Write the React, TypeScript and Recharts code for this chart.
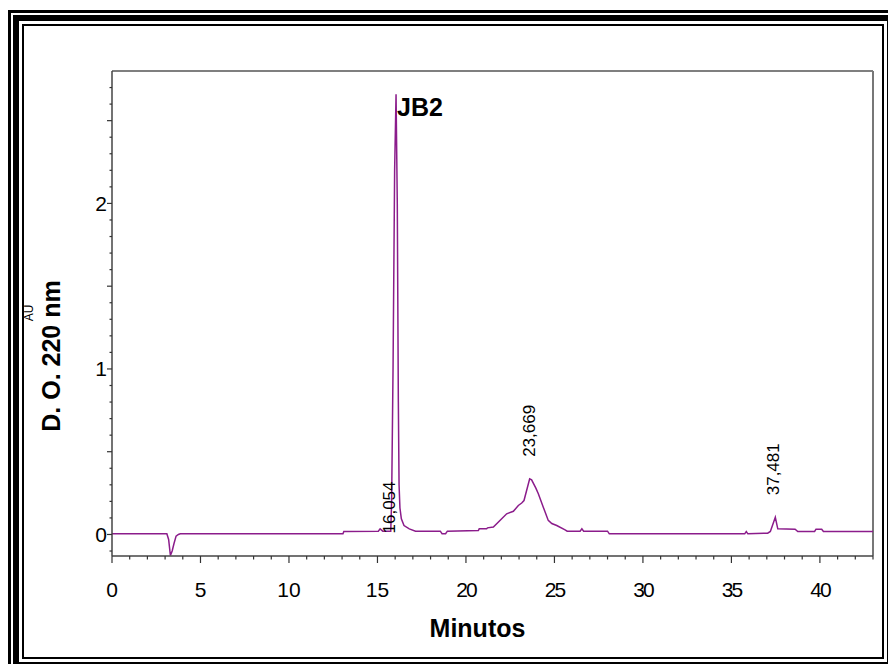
import React from 'react';
import { LineChart, Line, XAxis, YAxis, ReferenceLine, ReferenceDot } from 'recharts';

// chromatogram trace (minutes / AU)
const minutes = [
  0, 3.1, 3.2, 3.3, 3.4, 3.5, 3.62, 3.75, 3.86,
  13.05, 13.1, 15.05, 15.15, 15.3, 15.75, 15.8, 15.88, 15.97, 16.05,
  16.12, 16.18, 16.22, 16.27, 16.35, 16.5, 16.8, 17.15,
  18.55, 18.65, 18.85, 18.95, 20.7, 20.75, 21.17, 21.22, 21.55,
  22.02, 22.3, 22.68, 22.96, 23.15, 23.28, 23.6, 23.71, 23.95, 24.09, 24.37,
  24.65, 24.85, 25.13, 25.6, 25.72, 26.45, 26.55, 26.65,
  28.0, 28.1, 35.75, 35.84, 35.93, 37.05, 37.2, 37.48, 37.62,
  38.6, 38.75, 39.7, 39.78, 40.1, 40.2, 43,
];
const absorbance = [
  0.004, 0.004, -0.03, -0.127, -0.1, -0.056, -0.01, 0.0, 0.004,
  0.004, 0.018, 0.02, 0.034, 0.02, 0.02, 0.2, 1.0, 2.2, 2.66,
  2.0, 0.8, 0.3, 0.16, 0.095, 0.054, 0.034, 0.02,
  0.02, 0.005, 0.005, 0.02, 0.024, 0.034, 0.034, 0.04, 0.045,
  0.095, 0.125, 0.14, 0.175, 0.19, 0.205, 0.336, 0.33, 0.28, 0.246, 0.165,
  0.085, 0.066, 0.054, 0.028, 0.02, 0.02, 0.034, 0.02,
  0.02, 0.004, 0.004, 0.018, 0.004, 0.008, 0.018, 0.104, 0.034,
  0.032, 0.018, 0.018, 0.032, 0.032, 0.018, 0.018,
];

const peakTimes = [16.054, 23.669, 37.481];
const peakHeights = [2.66, 0.336, 0.104];
const peakLabels = ['16,054', '23,669', '37,481'];
const peakName = 'JB2';

const xLabelTicks = [0, 5, 10, 15, 20, 25, 30, 35, 40];
const yLabelTicks = [0, 1, 2];
const xTicks = Array.from({ length: 44 }, (_, i) => i);
const yTicks = Array.from({ length: 29 }, (_, i) => (i - 1) / 10);

const chartData = minutes.map((t, i) => ({ t, au: absorbance[i] }));

const XTick = ({ x, y, payload }: any) => {
  const v = payload.value;
  const major = xLabelTicks.includes(v);
  return (
    <g>
      <line x1={x} x2={x} y1={y} y2={y + (major ? 7 : 3.5)} stroke="#333" strokeWidth={1.2} />
      {major && (
        <text x={x} y={y + 41} textAnchor="middle" fontSize={21} fill="#000" letterSpacing={v >= 20 ? -2 : 0}>
          {v}
        </text>
      )}
    </g>
  );
};

const YTick = ({ x, y, payload }: any) => {
  const v = Math.round(payload.value * 10);
  const label = yLabelTicks.includes(v / 10);
  const half = v % 5 === 0;
  return (
    <g>
      <line x1={x - (half ? 5 : 2.5)} x2={x} y1={y} y2={y} stroke="#333" strokeWidth={1.2} />
      {label && (
        <text x={x - 5} y={y + 7.5} textAnchor="end" fontSize={21} fill="#000">
          {v / 10}
        </text>
      )}
    </g>
  );
};

const frame = (inset: number, w: number): React.CSSProperties => ({
  position: 'absolute',
  left: inset,
  top: 2 + inset,
  width: 890 - 2 * inset,
  height: 663 - 2 * inset,
  border: `${w}px solid #000`,
  boxSizing: 'border-box',
});

export default function App() {
  return (
    <div
      style={{
        position: 'relative',
        width: 888,
        height: 656,
        overflow: 'hidden',
        background: '#fff',
        fontFamily: '"Liberation Sans", Arial, sans-serif',
      }}
    >
      <div style={frame(0, 3)} />
      <div style={frame(5, 6)} />
      <div style={frame(14, 2)} />

      <div style={{ position: 'absolute', left: 0, top: 0 }}>
        <LineChart width={888} height={656} data={chartData} margin={{ top: 63, right: 23, bottom: 68, left: 44 }}>
          <XAxis
            dataKey="t"
            type="number"
            domain={[0, 43]}
            ticks={xTicks}
            interval={0}
            tick={<XTick />}
            tickSize={0}
            tickMargin={0}
            tickLine={false}
            height={40}
            axisLine={{ stroke: '#444', strokeWidth: 1.5 }}
          />
          <YAxis
            type="number"
            domain={[-0.13, 2.8]}
            allowDataOverflow
            ticks={yTicks}
            interval={0}
            tick={<YTick />}
            tickSize={0}
            tickMargin={0}
            tickLine={false}
            width={60}
            axisLine={{ stroke: '#444', strokeWidth: 1.5 }}
          />
          <ReferenceLine y={2.8} stroke="#555" strokeWidth={1.5} />
          <ReferenceLine x={43} stroke="#777" strokeWidth={2} />
          <Line
            type="linear"
            dataKey="au"
            stroke="#8B1C8B"
            strokeWidth={1.5}
            dot={false}
            isAnimationActive={false}
          />
          <ReferenceDot
            x={peakTimes[0]}
            y={peakHeights[0]}
            r={0}
            ifOverflow="visible"
            shape={(p: any) => (
              <text x={p.cx + 1} y={p.cy + 22} fontSize={25} fontWeight="bold" fill="#000">
                {peakName}
              </text>
            )}
          />
          {peakTimes.map((t, i) => {
            const tall = peakHeights[i] > 1;
            return (
              <ReferenceDot
                key={t}
                x={t}
                y={tall ? 0 : peakHeights[i]}
                r={0}
                ifOverflow="visible"
                shape={(p: any) => (
                  <text
                    transform={`translate(${p.cx + (tall ? -1 : 4)},${p.cy - (tall ? 1 : 22)}) rotate(-90)`}
                    fontSize={17}
                    fill="#000"
                  >
                    {peakLabels[i]}
                  </text>
                )}
              />
            );
          })}
        </LineChart>
      </div>

      <svg width={888} height={656} style={{ position: 'absolute', left: 0, top: 0, pointerEvents: 'none' }}>
        <text transform="translate(52,348) rotate(-90)" textAnchor="middle" fontSize={25} fontWeight="bold" fill="#000">
          D. O. 220 nm
        </text>
        <text transform="translate(25,305) rotate(-90)" textAnchor="middle" fontSize={12} fill="#000">
          AU
        </text>
        <text x={469.5} y={628.5} textAnchor="middle" fontSize={25} fontWeight="bold" fill="#000">
          Minutos
        </text>
      </svg>
    </div>
  );
}
